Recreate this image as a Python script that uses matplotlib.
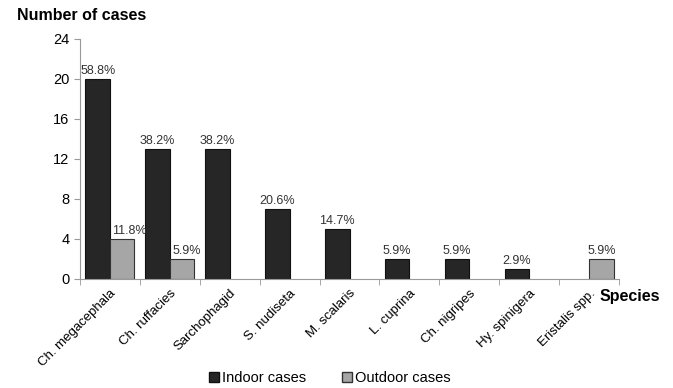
import numpy as np
import matplotlib
matplotlib.use("Agg")
import matplotlib.pyplot as plt
from matplotlib.patches import Patch

species = ["Ch. megacephala", "Ch. ruffacies", "Sarchophagid", "S. nudiseta",
           "M. scalaris", "L. cuprina", "Ch. nigripes", "Hy. spinigera",
           "Eristalis spp."]
indoor = [20, 13, 13, 7, 5, 2, 2, 1, 0]
outdoor = [4, 2, 0, 0, 0, 0, 0, 0, 2]
indoor_pct = ["58.8%", "38.2%", "38.2%", "20.6%", "14.7%", "5.9%", "5.9%", "2.9%", ""]
outdoor_pct = ["11.8%", "5.9%", "", "", "", "", "", "", "5.9%"]

plt.rcParams['font.family'] = ['Liberation Sans', 'DejaVu Sans']

fig = plt.figure(figsize=(6.73, 3.88), dpi=100)
ax = fig.add_axes([80/673, 1-279/388, (619-80)/673, 240/388])

x = np.arange(len(species))
w = 0.41
dark = "#262626"
light = "#a6a6a6"

for i in x:
    if indoor[i] > 0:
        ax.bar(i - w/2, indoor[i], w, color=dark, edgecolor="#111111", linewidth=0.8)
        ax.text(i - w/2, indoor[i] + 0.25, indoor_pct[i], ha='center', va='bottom',
                fontsize=9, color="#333333")
    if outdoor[i] > 0:
        ax.bar(i + w/2, outdoor[i], w, color=light, edgecolor="#333333", linewidth=0.8)
        # next to a taller indoor bar the label is pushed right, as in the original
        if indoor[i] > 0:
            ax.text(i + 0.04, outdoor[i] + 0.25, outdoor_pct[i], ha='left', va='bottom',
                    fontsize=9, color="#333333")
        else:
            ax.text(i + w/2, outdoor[i] + 0.25, outdoor_pct[i], ha='center', va='bottom',
                    fontsize=9, color="#333333")

ax.set_xlim(-0.5, len(species) - 0.5)
ax.set_ylim(0, 24)
ax.set_yticks(range(0, 25, 4))
ax.set_xticks(x)
ax.set_xticklabels(species, rotation=45, ha='right', rotation_mode='anchor', fontsize=9.5)
ax.set_xticks(np.arange(-0.5, len(species)), minor=True)
ax.tick_params(axis='x', which='major', length=0, pad=6)
ax.tick_params(axis='x', which='minor', length=4, color="#999999")
ax.tick_params(axis='y', length=4, color="#999999", labelsize=10.5)

for s in ['top', 'right']:
    ax.spines[s].set_visible(False)
for s in ['left', 'bottom']:
    ax.spines[s].set_color("#999999")

fig.text(17/673, 1-16/388, "Number of cases", fontsize=11.5, fontweight='bold',
         ha='left', va='center')
fig.text(600/673, 1-297/388, "Species", fontsize=11.5, fontweight='bold',
         ha='left', va='center')

handles = [Patch(facecolor=dark, edgecolor="#111111", label="Indoor cases"),
           Patch(facecolor=light, edgecolor="#333333", label="Outdoor cases")]
fig.legend(handles=handles, loc='center', bbox_to_anchor=(0.49, 1-378/388), ncol=2,
           frameon=False, fontsize=10.5, handlelength=0.7, handleheight=0.7,
           handletextpad=0.2, columnspacing=2.5)

fig.savefig("out.png", dpi=100)
